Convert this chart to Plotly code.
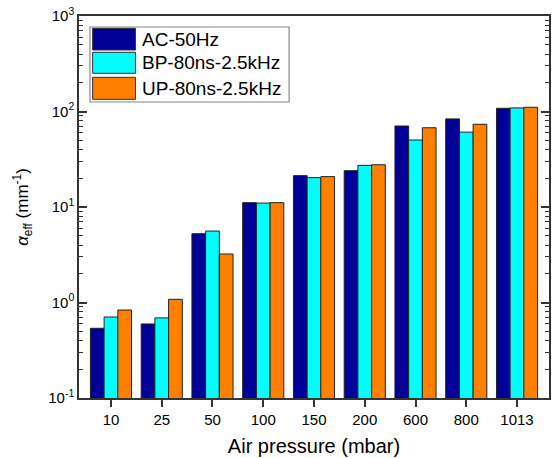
import plotly.graph_objects as go

pressures = ["10", "25", "50", "100", "150", "200", "600", "800", "1013"]
series_names = ["AC-50Hz", "BP-80ns-2.5kHz", "UP-80ns-2.5kHz"]
ac_50hz = [0.537, 0.596, 5.25, 11.1, 21.3, 24.0, 70.5, 83.7, 108]
bp_80ns = [0.705, 0.69, 5.6, 11.0, 20.3, 27.3, 50.3, 60.8, 109]
up_80ns = [0.834, 1.08, 3.22, 11.1, 20.8, 27.7, 67.6, 73.5, 110.7]
colors = ["#000099", "#00FFFF", "#FF8000"]
y_tickvals = [0.1, 1, 10, 100, 1000]
y_ticktext = ["10<sup>-1</sup>", "10<sup>0</sup>", "10<sup>1</sup>", "10<sup>2</sup>", "10<sup>3</sup>"]

FONT = "Liberation Sans, Arial, sans-serif"
W, H = 553, 458
L, R, T, B = 79, 551, 16, 398

fig = go.Figure()
for name, vals, c in zip(series_names, [ac_50hz, bp_80ns, up_80ns], colors):
    fig.add_trace(go.Bar(x=pressures, y=vals, name=name, marker=dict(color=c, line=dict(color="#222222", width=1)),
                         showlegend=False))

def px2paper_x(px):
    return (px - L) / (R - L)

def px2paper_y(py):
    return (B - py) / (B - T)

shapes = []
annotations = []
# legend box
shapes.append(dict(type="rect", xref="paper", yref="paper",
                   x0=px2paper_x(90), x1=px2paper_x(290), y0=px2paper_y(102), y1=px2paper_y(27),
                   line=dict(color="#888888", width=1.2), fillcolor="white"))
rows = [(28.3, 50), (52.3, 73.3), (77.3, 99.3)]
for (ya, yb), name, c in zip(rows, series_names, colors):
    shapes.append(dict(type="rect", xref="paper", yref="paper",
                       x0=px2paper_x(92.7), x1=px2paper_x(135.7), y0=px2paper_y(yb), y1=px2paper_y(ya),
                       line=dict(color="#333333", width=1), fillcolor=c))
    annotations.append(dict(text=name, xref="paper", yref="paper", x=px2paper_x(140), y=px2paper_y((ya + yb) / 2),
                            xanchor="left", yanchor="middle", showarrow=False,
                            font=dict(family=FONT, size=19, color="black")))

fig.update_layout(
    width=W, height=H,
    margin=dict(l=L, r=W - R, t=T, b=H - B),
    paper_bgcolor="white", plot_bgcolor="white",
    barmode="group", bargap=0.19, bargroupgap=0,
    font=dict(family=FONT, size=15, color="black"),
    shapes=shapes, annotations=annotations,
    xaxis=dict(type="category", range=[-0.63, 8.63], showline=True, linecolor="#333333", linewidth=1.5,
               mirror=True, ticks="outside", ticklen=7, tickcolor="#333333", tickwidth=1.5,
               tickfont=dict(family=FONT, size=15),
               title=dict(text="Air pressure (mbar)", font=dict(family=FONT, size=20), standoff=12)),
    yaxis=dict(type="log", range=[-1, 3], showline=True, linecolor="#333333", linewidth=1.5,
               mirror="ticks", ticks="inside", ticklen=8, tickcolor="#333333", tickwidth=1.5,
               tickvals=y_tickvals, ticktext=y_ticktext, showgrid=False, zeroline=False,
               tickfont=dict(family=FONT, size=15),
               minor=dict(ticks="inside", ticklen=4, tickcolor="#333333", tickwidth=1, dtick="D1", showgrid=False),
               title=dict(text="<i>α</i><sub>eff</sub> (mm<sup>-1</sup>)", font=dict(family=FONT, size=17), standoff=15)),
)

fig.write_html("out.html", config={"displayModeBar": False},
               post_script="document.body.style.margin='0';document.body.style.padding='0';document.body.style.overflow='hidden';")
